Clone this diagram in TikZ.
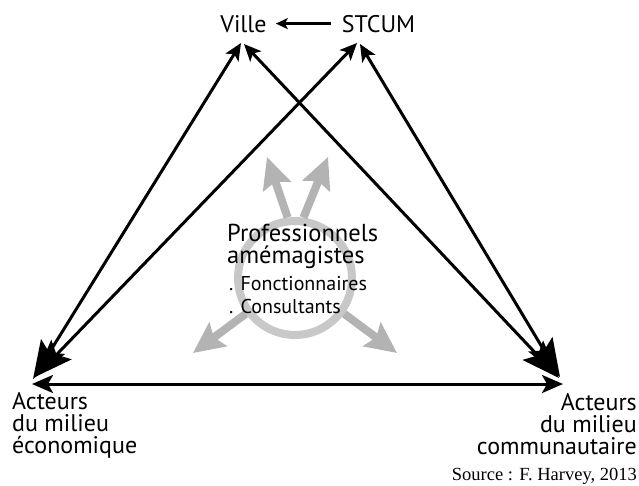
\documentclass[tikz,border=0pt]{standalone}
\usepackage{fontspec}
\setmainfont{PT Sans}
\newfontfamily\srcfont{Liberation Serif}
\usetikzlibrary{arrows.meta}
\definecolor{arrowgray}{HTML}{B3B3B3}
\definecolor{ringgray}{HTML}{C8C8C8}
\begin{document}
\begin{tikzpicture}[x=1pt,y=-1pt,
  lbl/.style={inner sep=0pt, font=\fontsize{24}{22}\selectfont},
  small/.style={inner sep=0pt, font=\fontsize{20}{23}\selectfont},
  link/.style={line width=3pt, {Stealth[length=17pt,width=15pt,inset=4pt]}-{Stealth[length=38pt,width=28pt,inset=7pt]}},
  hlink/.style={line width=3pt, {Stealth[length=21pt,width=18pt,inset=5pt]}-{Stealth[length=21pt,width=18pt,inset=5pt]}},
  garrow/.style={draw=arrowgray, line width=8pt, -{Stealth[length=31pt,width=29pt,inset=5pt]}}]
\useasboundingbox (0,0) rectangle (639,485);
\fill[white] (0,0) rectangle (639,485);
% gray ring and arrows
\node[circle, draw=ringgray, line width=8pt, minimum size=114pt, inner sep=0pt] (ring) at (295,278) {};
\coordinate (gUL) at (267,157);
\coordinate (gUR) at (328,157);
\coordinate (gLL) at (193,353);
\coordinate (gLR) at (397,353);
\draw[garrow] (ring.97) -- (gUL);
\draw[garrow] (ring.82) -- (gUR);
\draw[garrow] (ring.216) -- (gLL);
\draw[garrow] (ring.-36) -- (gLR);
% texts
\node[lbl, anchor=base] (ville) at (243.5,32) {Ville};
\node[lbl, anchor=base] (stcum) at (378.5,32) {STCUM};
\node[lbl, anchor=base west, align=left] (eco) at (12,453) {Acteurs\\du milieu\\économique};
\node[lbl, anchor=base east, align=right] (comm) at (637,454) {Acteurs\\du milieu\\communautaire};
\node[lbl, anchor=base west, align=left, font=\fontsize{24.5}{22}\selectfont] (prof) at (227,263) {Professionnels\\amémagistes};
\node[small, anchor=base west, align=left] (list) at (229,313) {. Fonctionnaires\\. Consultants};
\node[inner sep=0pt, anchor=base east, font=\srcfont\fontsize{18.5}{20}\selectfont] (src) at (637,480) {Source : F. Harvey, 2013};
% connector endpoints
\coordinate (villeL) at (241,43);
\coordinate (villeR) at (244,44);
\coordinate (stcumL) at (357,43);
\coordinate (stcumR) at (360,44);
\coordinate (ecoV) at (33,379);
\coordinate (ecoS) at (35,377);
\coordinate (commV) at (559,378);
\coordinate (commS) at (560,377);
\coordinate (ecoH) at (32,384);
\coordinate (commH) at (563,384);
% black connectors
\draw[line width=3pt, -{Stealth[length=12pt,width=11pt,inset=3pt]}, shorten <=11pt, shorten >=9pt] (stcum.west) -- (stcum.west -| ville.east);
\draw[link] (villeL) -- (ecoV);
\draw[link] (stcumL) -- (ecoS);
\draw[link] (villeR) -- (commV);
\draw[link] (stcumR) -- (commS);
\draw[hlink] (ecoH) -- (commH);
\end{tikzpicture}
\end{document}
